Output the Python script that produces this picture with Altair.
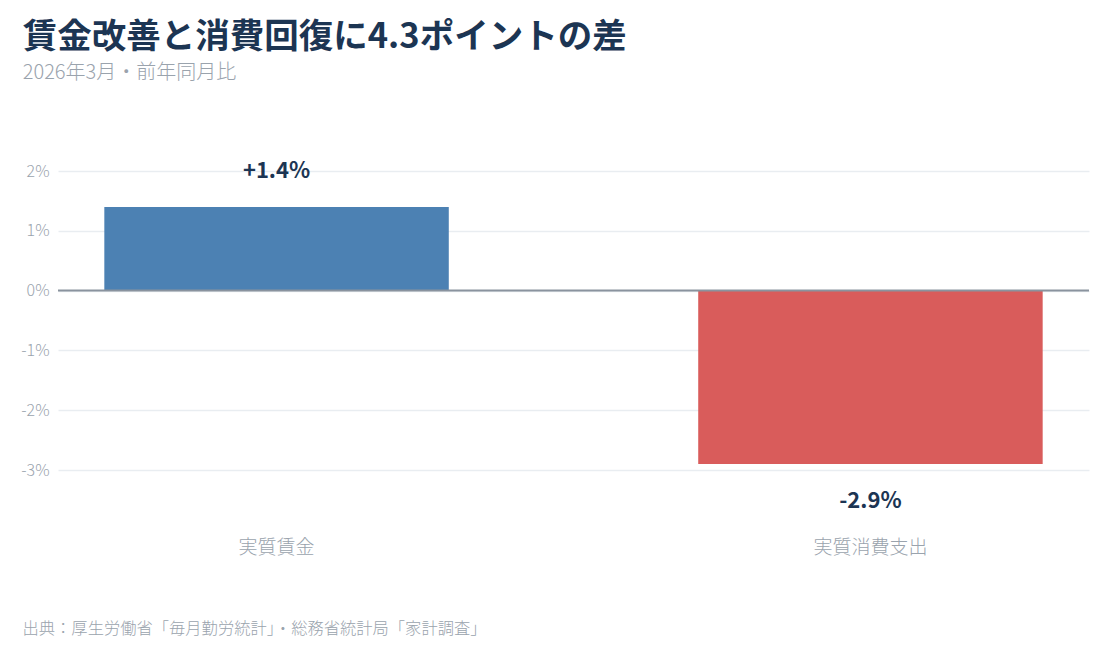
import pandas as pd
import altair as alt

categories = ["実質賃金", "実質消費支出"]
values = [1.4, -2.9]
bar_colors = ["#4c81b3", "#d95c5b"]
y_ticks = [2, 1, 0, -1, -2, -3]

FONT = "Noto Sans CJK JP"
NAVY = "#1c3553"
GRAY = "#9aa3ad"

df = pd.DataFrame({
    "category": categories,
    "value": values,
    "label": [f"{v:+.1f}%" for v in values],
})

x = alt.X(
    "category:N",
    sort=categories,
    scale=alt.Scale(paddingInner=0.42, paddingOuter=0.078),
    axis=alt.Axis(
        title="出典：厚生労働省「毎月勤労統計」・総務省統計局「家計調査」",
        titleFont=FONT, titleFontSize=16.3, titleFontWeight=300, titleColor=GRAY,
        titleAlign="left", titleAnchor="start", titleBaseline="middle",
        titleX=-36, titleY=158,
        labelFont=FONT, labelFontSize=19, labelFontWeight=300, labelColor=GRAY, labelAngle=0,
        labelPadding=68, domain=False, ticks=False, grid=False,
    ),
)
y = alt.Y(
    "value:Q",
    scale=alt.Scale(domain=[-3, 2], nice=False, zero=True),
    axis=alt.Axis(
        title=None, values=y_ticks, labelExpr="datum.value + '%'",
        labelFont=FONT, labelFontSize=16, labelFontWeight=300, labelColor=GRAY, labelPadding=9,
        domain=False, ticks=False, grid=True, gridColor="#e9edf1", gridWidth=1.5,
    ),
)

base = alt.Chart(df).encode(x=x, y=y)

bars = base.mark_bar().encode(
    color=alt.Color("category:N", scale=alt.Scale(domain=categories, range=bar_colors), legend=None)
)

zero = alt.Chart(pd.DataFrame({"z": [0]})).mark_rule(color="#8a939e", strokeWidth=2).encode(y="z:Q")

pos_labels = base.transform_filter("datum.value >= 0").mark_text(
    font=FONT, fontSize=22, fontWeight="bold", color=NAVY, baseline="middle", dy=-36
).encode(text="label:N")
neg_labels = base.transform_filter("datum.value < 0").mark_text(
    font=FONT, fontSize=22, fontWeight="bold", color=NAVY, baseline="middle", dy=37
).encode(text="label:N")

chart = (bars + zero + pos_labels + neg_labels).properties(
    width=1031,
    height=299,
    padding={"left": 12, "top": 12, "right": 0, "bottom": 5},
    title=alt.TitleParams(
        text="賃金改善と消費回復に4.3ポイントの差",
        subtitle="2026年3月・前年同月比",
        anchor="start", frame="bounds", dx=2,
        font=FONT, fontSize=34.5, fontWeight="bold", color=NAVY,
        subtitleFont=FONT, subtitleFontSize=20, subtitleFontWeight=300, subtitleColor=GRAY,
        subtitlePadding=7, offset=76,
    ),
).configure(background="white").configure_view(strokeWidth=0)

chart.save("out.html", embed_options={"renderer": "svg", "actions": False})
